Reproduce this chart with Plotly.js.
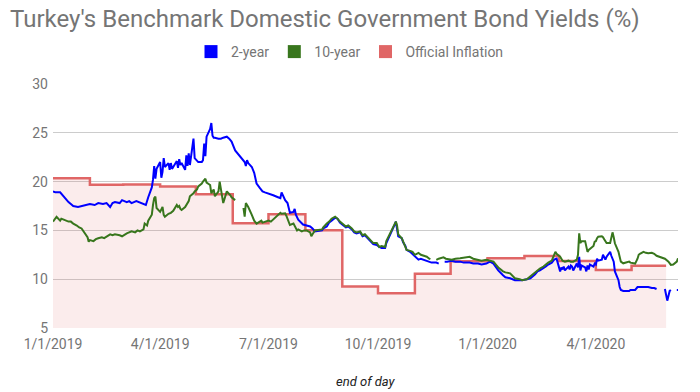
<!DOCTYPE html>
<html>
<head>
<meta charset="utf-8">
<script src="https://cdn.plot.ly/plotly-3.0.1.min.js"></script>
<style>
html,body{margin:0;padding:0;background:#fff;}
#chart{width:700px;height:392px;}
</style>
</head>
<body>
<div id="chart"></div>
<script>
// ---- Data ----
const seriesNames = ["2-year", "10-year", "Official Inflation"];

const twoYearDates = ["2019-01-01","2019-01-03","2019-01-07","2019-01-09","2019-01-11","2019-01-14","2019-01-16","2019-01-18","2019-01-22","2019-01-25","2019-01-29","2019-02-01","2019-02-05","2019-02-08","2019-02-12","2019-02-15","2019-02-18","2019-02-20","2019-02-22","2019-02-26","2019-02-28","2019-03-04","2019-03-06","2019-03-08","2019-03-12","2019-03-14","2019-03-18","2019-03-20","2019-03-22","2019-03-25","2019-03-26","2019-03-27","2019-03-28","2019-03-29","2019-04-01","2019-04-02","2019-04-03","2019-04-04","2019-04-05","2019-04-08","2019-04-09","2019-04-10","2019-04-11","2019-04-12","2019-04-15","2019-04-16","2019-04-17","2019-04-18","2019-04-19","2019-04-22","2019-04-23","2019-04-24","2019-04-25","2019-04-26","2019-04-29","2019-04-30","2019-05-02","2019-05-03","2019-05-06","2019-05-07","2019-05-08","2019-05-09","2019-05-10","2019-05-13","2019-05-14","2019-05-15","2019-05-16","2019-05-17","2019-05-20","2019-05-22","2019-05-24","2019-05-27","2019-05-29","2019-05-31","2019-06-03","2019-06-05","2019-06-07","2019-06-10","2019-06-11","2019-06-12","2019-06-13","2019-06-14","2019-06-17","2019-06-19","2019-06-20","2019-06-21","2019-06-24","2019-06-26","2019-06-28","2019-07-01","2019-07-03","2019-07-05","2019-07-09","2019-07-11","2019-07-12","2019-07-15","2019-07-17","2019-07-18","2019-07-19","2019-07-22","2019-07-23","2019-07-24","2019-07-26","2019-07-30","2019-08-02","2019-08-05","2019-08-07","2019-08-09","2019-08-15","2019-08-16","2019-08-19","2019-08-21","2019-08-23","2019-08-26","2019-08-28","2019-08-30","2019-09-02","2019-09-04","2019-09-06","2019-09-09","2019-09-11","2019-09-13","2019-09-16","2019-09-18","2019-09-20","2019-09-23","2019-09-25","2019-09-27","2019-09-30","2019-10-02","2019-10-04","2019-10-07","2019-10-08","2019-10-10","2019-10-11","2019-10-14","2019-10-15","2019-10-16","2019-10-17","2019-10-18","2019-10-21","2019-10-22","2019-10-24","2019-10-25","2019-10-28","2019-10-31","2019-11-01","2019-11-04","2019-11-06","2019-11-08","2019-11-11","2019-11-13","2019-11-15","2019-11-19","2019-11-21","2019-11-22","2019-11-26","2019-11-28","2019-12-02","2019-12-05","2019-12-09","2019-12-12","2019-12-17","2019-12-20","2019-12-24","2019-12-27","2019-12-31","2020-01-03","2020-01-06","2020-01-08","2020-01-10","2020-01-14","2020-01-16","2020-01-20","2020-01-22","2020-01-24","2020-01-28","2020-01-30","2020-02-03","2020-02-06","2020-02-10","2020-02-12","2020-02-14","2020-02-17","2020-02-19","2020-02-21","2020-02-24","2020-02-26","2020-02-28","2020-03-02","2020-03-03","2020-03-04","2020-03-05","2020-03-06","2020-03-09","2020-03-10","2020-03-11","2020-03-12","2020-03-13","2020-03-16","2020-03-17","2020-03-18","2020-03-19","2020-03-20","2020-03-23","2020-03-24","2020-03-25","2020-03-26","2020-03-27","2020-03-30","2020-03-31","2020-04-01","2020-04-02","2020-04-03","2020-04-06","2020-04-07","2020-04-08","2020-04-09","2020-04-10","2020-04-13","2020-04-14","2020-04-15","2020-04-16","2020-04-17","2020-04-20","2020-04-21","2020-04-22","2020-04-24","2020-04-27","2020-04-29","2020-04-30","2020-05-04","2020-05-06","2020-05-07","2020-05-11","2020-05-13","2020-05-15","2020-05-18","2020-05-20","2020-05-22","2020-05-25","2020-05-29","2020-05-31","2020-06-02","2020-06-03","2020-06-05","2020-06-08","2020-06-09"];
const twoYearValues = [19.0,18.9,18.9,18.6,18.4,17.9,17.7,17.5,17.4,17.5,17.6,17.7,17.6,17.8,17.7,17.8,17.4,17.8,17.9,17.8,18.1,17.9,18.0,17.8,18.0,17.9,17.7,17.6,18.4,19.4,20.2,21.6,20.3,21.3,22.0,20.4,21.0,22.4,21.5,21.9,21.2,21.9,21.3,21.5,22.1,21.4,22.3,21.7,21.9,21.2,22.7,21.6,22.9,21.7,24.4,22.4,22.1,22.0,22.0,22.2,23.9,22.6,24.6,25.4,26.0,24.7,24.5,24.5,24.4,24.4,24.5,24.6,24.4,24.1,23.2,22.9,22.6,22.2,22.0,21.6,22.2,21.9,21.5,20.9,20.4,19.8,19.3,19.0,18.9,18.8,18.7,18.6,18.4,18.3,18.9,18.1,17.8,17.2,16.8,16.9,17.2,16.6,16.1,15.6,15.5,15.4,15.2,14.9,15.0,15.2,15.4,15.8,16.0,16.3,16.2,15.8,15.5,15.3,15.4,15.1,14.8,14.7,14.8,14.4,14.5,14.1,13.9,13.6,13.5,13.3,13.2,13.2,13.7,14.2,14.6,15.2,15.6,15.9,15.3,14.4,14.2,13.8,13.4,13.0,12.8,12.5,12.4,12.0,12.1,12.0,11.9,11.8,11.7,11.7,11.6,null,11.8,11.8,11.9,11.8,11.8,11.7,11.7,11.6,11.6,11.5,11.6,11.8,11.6,11.2,10.9,10.4,10.2,10.1,10.0,9.9,9.9,9.9,10.0,10.1,10.5,10.8,10.9,11.1,11.3,11.5,11.7,12.0,12.1,10.8,11.2,11.0,11.3,10.9,11.3,11.0,11.4,11.3,10.9,11.6,11.2,12.3,10.9,11.4,11.2,10.8,11.4,11.0,11.5,11.3,11.6,11.5,12.1,11.9,12.0,12.5,12.2,12.0,12.3,12.8,12.4,12.1,11.8,10.8,9.9,9.2,8.9,8.8,8.8,8.8,8.9,8.9,9.2,9.2,9.2,9.15,9.2,9.1,9.1,9.0,null,9.0,7.8,8.8,8.9,null,8.9,8.9];

const tenYearDates = ["2019-01-01","2019-01-03","2019-01-04","2019-01-07","2019-01-08","2019-01-10","2019-01-14","2019-01-16","2019-01-18","2019-01-21","2019-01-23","2019-01-25","2019-01-28","2019-01-30","2019-01-31","2019-02-01","2019-02-04","2019-02-06","2019-02-08","2019-02-11","2019-02-13","2019-02-15","2019-02-18","2019-02-20","2019-02-22","2019-02-26","2019-02-28","2019-03-04","2019-03-06","2019-03-08","2019-03-11","2019-03-13","2019-03-15","2019-03-18","2019-03-19","2019-03-20","2019-03-21","2019-03-22","2019-03-25","2019-03-26","2019-03-27","2019-03-28","2019-03-29","2019-04-01","2019-04-02","2019-04-03","2019-04-04","2019-04-05","2019-04-08","2019-04-10","2019-04-12","2019-04-15","2019-04-16","2019-04-17","2019-04-18","2019-04-19","2019-04-22","2019-04-24","2019-04-25","2019-04-26","2019-04-29","2019-04-30","2019-05-02","2019-05-03","2019-05-06","2019-05-07","2019-05-08","2019-05-09","2019-05-10","2019-05-13","2019-05-14","2019-05-15","2019-05-16","2019-05-17","2019-05-20","2019-05-21","2019-05-22","2019-05-23","2019-05-24","2019-05-27","2019-05-28","2019-05-29","2019-05-30","2019-05-31","2019-06-03","2019-06-04","2019-06-10","2019-06-11","2019-06-12","2019-06-13","2019-06-14","2019-06-17","2019-06-18","2019-06-19","2019-06-21","2019-06-24","2019-06-25","2019-06-26","2019-06-28","2019-07-01","2019-07-03","2019-07-05","2019-07-08","2019-07-09","2019-07-10","2019-07-11","2019-07-12","2019-07-15","2019-07-16","2019-07-17","2019-07-18","2019-07-19","2019-07-22","2019-07-23","2019-07-24","2019-07-25","2019-07-26","2019-07-29","2019-07-31","2019-08-02","2019-08-05","2019-08-06","2019-08-07","2019-08-08","2019-08-09","2019-08-15","2019-08-16","2019-08-19","2019-08-21","2019-08-23","2019-08-26","2019-08-28","2019-08-30","2019-09-02","2019-09-04","2019-09-06","2019-09-09","2019-09-11","2019-09-13","2019-09-16","2019-09-18","2019-09-20","2019-09-23","2019-09-25","2019-09-27","2019-09-30","2019-10-02","2019-10-04","2019-10-07","2019-10-08","2019-10-10","2019-10-11","2019-10-14","2019-10-15","2019-10-16","2019-10-17","2019-10-18","2019-10-21","2019-10-22","2019-10-24","2019-10-25","2019-10-28","2019-10-30","2019-11-01","2019-11-04","2019-11-06","2019-11-08","2019-11-11","2019-11-13","2019-11-14","2019-11-15","2019-11-19","2019-11-21","2019-11-25","2019-11-27","2019-12-02","2019-12-05","2019-12-09","2019-12-12","2019-12-17","2019-12-20","2019-12-24","2019-12-27","2019-12-31","2020-01-03","2020-01-06","2020-01-08","2020-01-10","2020-01-14","2020-01-16","2020-01-20","2020-01-22","2020-01-24","2020-01-28","2020-01-30","2020-02-03","2020-02-06","2020-02-10","2020-02-12","2020-02-14","2020-02-17","2020-02-19","2020-02-21","2020-02-24","2020-02-26","2020-02-27","2020-02-28","2020-03-02","2020-03-04","2020-03-06","2020-03-09","2020-03-11","2020-03-13","2020-03-16","2020-03-17","2020-03-18","2020-03-19","2020-03-20","2020-03-23","2020-03-24","2020-03-25","2020-03-26","2020-03-27","2020-03-30","2020-03-31","2020-04-01","2020-04-02","2020-04-03","2020-04-06","2020-04-07","2020-04-08","2020-04-09","2020-04-10","2020-04-13","2020-04-14","2020-04-15","2020-04-16","2020-04-17","2020-04-20","2020-04-21","2020-04-22","2020-04-24","2020-04-27","2020-04-29","2020-04-30","2020-05-04","2020-05-06","2020-05-07","2020-05-08","2020-05-11","2020-05-13","2020-05-15","2020-05-18","2020-05-20","2020-05-22","2020-05-27","2020-05-29","2020-06-01","2020-06-03","2020-06-05","2020-06-08","2020-06-09"];
const tenYearValues = [15.9,16.2,16.4,16.0,16.2,16.1,15.9,15.9,15.7,15.5,15.3,15.2,14.6,14.3,13.85,14.0,13.9,14.1,14.2,14.3,14.2,14.4,14.6,14.5,14.6,14.5,14.4,14.7,14.8,14.9,14.8,15.0,14.9,15.1,15.7,15.6,15.5,16.0,16.6,17.6,18.3,18.45,17.3,16.9,17.1,17.4,16.6,16.4,16.7,16.8,17.0,17.6,17.4,17.5,17.2,17.1,17.4,17.8,18.0,18.5,18.8,19.0,19.2,19.5,19.8,20.0,20.1,20.3,19.9,19.65,18.8,19.0,19.2,18.5,19.0,20.0,19.3,18.6,17.8,19.0,18.9,18.8,18.6,18.4,18.1,null,17.3,16.4,17.8,17.6,17.4,16.6,16.2,16.0,15.7,15.9,16.0,15.8,15.9,16.0,15.9,16.1,16.4,16.5,16.6,16.8,16.7,16.75,16.5,16.1,15.7,15.55,15.7,15.5,15.3,15.0,15.1,14.9,15.0,15.0,14.8,14.4,14.6,14.9,15.0,15.1,15.3,15.7,15.9,16.2,16.4,16.2,15.9,15.6,15.4,15.5,15.2,14.9,14.8,14.9,14.5,14.6,14.2,14.0,13.7,13.7,13.3,13.4,13.3,13.9,14.4,14.8,15.4,15.7,15.9,15.5,14.6,14.2,13.9,13.4,13.0,12.9,12.8,12.5,12.7,12.5,12.4,12.3,12.1,12.05,null,11.97,12.1,12.24,12.1,12.0,12.1,12.14,12.2,12.3,12.1,12.0,11.9,12.0,11.9,11.8,11.5,11.2,10.8,10.7,10.6,10.3,10.1,10.0,9.9,10.0,10.3,10.7,10.9,11.1,11.3,11.5,11.7,11.9,12.6,12.8,12.6,12.3,11.9,11.8,11.9,11.8,11.8,12.0,12.5,14.7,13.7,13.9,13.9,13.2,12.8,13.0,13.1,13.4,13.85,13.9,14.2,14.36,14.4,14.3,14.1,13.85,13.7,13.7,14.2,14.8,14.3,13.68,12.8,12.14,11.8,11.63,11.7,11.8,11.7,11.6,12.1,12.5,12.6,12.8,12.7,12.65,12.7,12.6,12.4,12.14,12.1,11.8,11.46,11.5,11.8,12.14];

const inflationDates = ["2019-01-01","2019-02-01","2019-03-01","2019-04-01","2019-05-01","2019-06-01","2019-07-01","2019-08-01","2019-09-01","2019-10-01","2019-11-01","2019-12-01","2020-01-01","2020-02-01","2020-03-01","2020-04-01","2020-05-01","2020-05-30"];
const inflationValues = [20.35,19.67,19.71,19.50,18.71,15.72,16.65,15.01,9.26,8.55,10.56,11.84,12.15,12.37,11.86,10.94,11.39,11.39];

const xTickDates = ["2019-01-01","2019-04-01","2019-07-01","2019-10-01","2020-01-01","2020-04-01"];
const xTickLabels = ["1/1/2019","4/1/2019","7/1/2019","10/1/2019","1/1/2020","4/1/2020"];
const yTicks = [5,10,15,20,25,30];
const xAxisTitle = "end of day";

// ---- Styles ----
const colors = {two:"#0000ff", ten:"#38761d", infl:"#e06666"};
const gray = "#757575";
const FONT = "Roboto, Arial, sans-serif";

const traces = [
  {x: inflationDates, y: inflationValues, type:"scatter", mode:"lines",
   line:{color:colors.infl, width:2.5, shape:"hv"}, fill:"tozeroy",
   fillcolor:"rgba(224,102,102,0.12)", showlegend:false, hoverinfo:"skip"},
  {x: twoYearDates, y: twoYearValues, type:"scatter", mode:"lines",
   line:{color:colors.two, width:2}, connectgaps:false, showlegend:false},
  {x: tenYearDates, y: tenYearValues, type:"scatter", mode:"lines",
   line:{color:colors.ten, width:2}, connectgaps:false, showlegend:false},
  // legend entries (square swatches)
  {x:[null], y:[null], type:"scatter", mode:"markers", name:seriesNames[0],
   marker:{symbol:"square", size:13, color:colors.two}},
  {x:[null], y:[null], type:"scatter", mode:"markers", name:seriesNames[1],
   marker:{symbol:"square", size:13, color:colors.ten}},
  {x:[null], y:[null], type:"scatter", mode:"markers", name:seriesNames[2],
   marker:{symbol:"square", size:13, color:colors.infl}}
];

const layout = {
  width:700, height:392,
  margin:{l:53, r:22, t:84, b:64},
  paper_bgcolor:"#ffffff", plot_bgcolor:"#ffffff",
  font:{family:FONT, color:gray, size:14},
  title:{text:"Turkey's Benchmark Domestic Government Bond Yields (%)",
         font:{family:FONT, size:24, color:gray},
         x:10/700, xref:"container", xanchor:"left",
         y:1-19/392, yref:"container", yanchor:"middle"},
  showlegend:true,
  legend:{orientation:"h", x:0.5, xref:"container", xanchor:"center",
          y:1-52/392, yref:"container", yanchor:"middle",
          font:{family:FONT, size:14, color:gray}, itemwidth:30,
          bgcolor:"rgba(0,0,0,0)"},
  xaxis:{type:"date", range:["2019-01-01","2020-06-09"],
         tickmode:"array", tickvals:xTickDates, ticktext:xTickLabels,
         showgrid:false, zeroline:false, showline:false, ticks:"",
         ticklabelstandoff:6,
         tickfont:{family:FONT, size:14, color:gray},
         automargin:false, fixedrange:true},
  yaxis:{range:[5,30], tickmode:"array", tickvals:yTicks,
         showgrid:true, gridcolor:"#cccccc", gridwidth:1, zeroline:false,
         showline:false, ticks:"", ticklabelstandoff:4,
         tickfont:{family:FONT, size:14, color:gray},
         automargin:false, fixedrange:true},
  annotations:[{text:"<i>" + xAxisTitle + "</i>", xref:"paper", yref:"paper",
                x:0.5, y:-(381-328)/244, xanchor:"center", yanchor:"middle",
                showarrow:false, font:{family:FONT, size:13, color:"#222222"}}]
};

Plotly.newPlot("chart", traces, layout, {displayModeBar:false, staticPlot:true});
</script>
</body>
</html>
